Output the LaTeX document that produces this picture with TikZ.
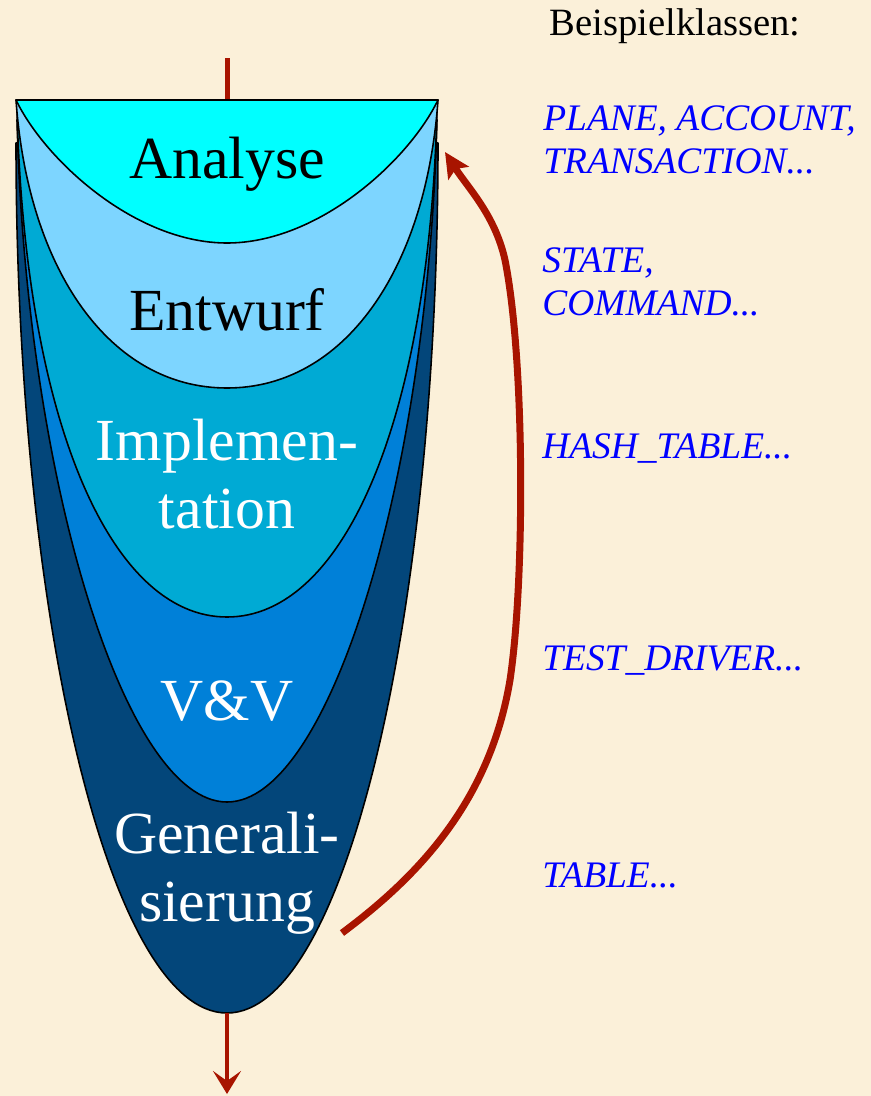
\documentclass[tikz,border=0pt]{standalone}
\usepackage{fontspec}
\setmainfont{Liberation Serif}
\usetikzlibrary{arrows.meta}
\definecolor{bg}{HTML}{FBF0D9}
\definecolor{darkb}{HTML}{03467A}
\definecolor{vvb}{HTML}{0080D8}
\definecolor{implb}{HTML}{00AAD4}
\definecolor{entb}{HTML}{7DD5FF}
\definecolor{anab}{HTML}{00FFFF}
\definecolor{arrowred}{HTML}{A81400}
\definecolor{classblue}{HTML}{0000FF}
\begin{document}
\begin{tikzpicture}[x=0.02cm,y=-0.02cm,
  layer/.style={draw=black,line width=0.9pt,line join=round},
  phase/.style={font=\fontsize{34}{39}\selectfont,align=center,inner sep=0pt},
  cls/.style={font=\fontsize{21.3}{24.4}\selectfont\itshape,text=classblue,align=left,anchor=base west,inner sep=0pt},
  flow/.style={draw=arrowred,line width=0.1cm}]

\fill[bg] (0,0) rectangle (871,1096);
\useasboundingbox (0,0) rectangle (871,1096);

\coordinate (in) at (227,58);
\coordinate (topmid) at (227,100);
\draw[flow] (in) -- (topmid);

% funnel layers, outermost first
\filldraw[layer,fill=darkb] (16,143) .. controls (16,620) and (110,1013) .. (227,1013)
   .. controls (344,1013) and (438,620) .. (438,143) -- cycle;
\filldraw[layer,fill=vvb] (17,120) .. controls (26,480) and (125,802) .. (227,802)
   .. controls (329,802) and (428,480) .. (437,120) -- cycle;
\filldraw[layer,fill=implb] (17,110) .. controls (25,420) and (110,617) .. (227,617)
   .. controls (344,617) and (429,420) .. (437,110) -- cycle;
\filldraw[layer,fill=entb] (16,100) .. controls (28,270) and (110,388) .. (227,388)
   .. controls (344,388) and (426,270) .. (438,100) -- cycle;
\filldraw[layer,fill=anab] (16,100) .. controls (45,160) and (135,243) .. (227,243)
   .. controls (319,243) and (409,160) .. (438,100) -- cycle;

% phase labels
\node[phase,anchor=base] (ana) at (227,178) {Analyse};
\node[phase,anchor=base] (ent) at (227,330) {Entwurf};
\node[phase,anchor=center,text=white] (impl) at (227,474) {Implemen-\\tation};
\node[phase,anchor=base,text=white] (vv) at (227,720) {V\&V};
\node[phase,anchor=center,text=white] (gen) at (227,873) {Generali-\\sierung};

% example classes (base anchor = baseline of the last line)
\node[font=\fontsize{22}{26}\selectfont,anchor=base west,inner sep=0pt] (hdr) at (549,35) {Beispielklassen:};
\node[cls] (c1) at (543,173) {PLANE, ACCOUNT,\\TRANSACTION...};
\node[cls] (c2) at (542,315) {STATE,\\COMMAND...};
\node[cls] (c3) at (542,458) {HASH\_TABLE...};
\node[cls] (c4) at (542,670) {TEST\_DRIVER...};
\node[cls] (c5) at (542,887) {TABLE...};

% feedback arrow
\coordinate (loopstart) at (342,933);
\coordinate (loopend) at (445,152);
\draw[flow,line width=0.14cm,-{Stealth[length=0.5cm,width=0.48cm,inset=0.1cm]}]
  (loopstart) .. controls (420,875) and (490,800) .. (510,680)
  .. controls (525,580) and (525,360) .. (505,260)
  .. controls (495,215) and (468,188) .. (loopend);

% output arrow
\coordinate (bottom) at (227,1013);
\coordinate (out) at (227,1094);
\draw[flow,line width=0.08cm,-{Stealth[length=0.46cm,width=0.56cm,inset=0.2cm]}] (bottom) -- (out);
\end{tikzpicture}
\end{document}
